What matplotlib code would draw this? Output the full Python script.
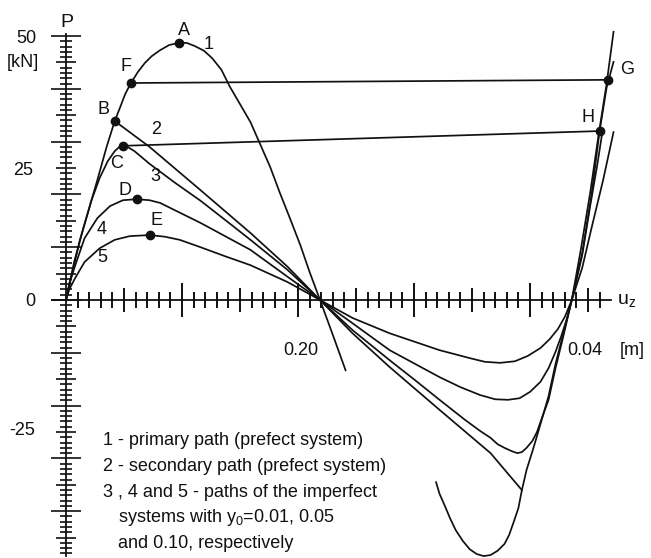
"""Load-displacement paths P(u_z) of a snap-through system (perfect and imperfect)."""

import numpy as np
import matplotlib
matplotlib.use("Agg")
import matplotlib.pyplot as plt

plt.rcParams["font.family"] = ["Liberation Sans", "DejaVu Sans"]
plt.rcParams["mathtext.fontset"] = "custom"
plt.rcParams["mathtext.rm"] = "Liberation Sans"
plt.rcParams["mathtext.it"] = "Liberation Sans"

INK = "#111111"

# 1 - primary path, left branch (u_z [m], P [kN])
u1a = [0.000, 0.012, 0.027, 0.035, 0.042, 0.047, 0.051, 0.056, 0.062, 0.068, 0.074,
       0.081, 0.089, 0.097, 0.104, 0.111, 0.119, 0.126, 0.134, 0.141, 0.150, 0.159,
       0.167, 0.176, 0.184, 0.193, 0.202, 0.210, 0.219, 0.230, 0.241]
p1a = [0.0, 11.4, 22.7, 29.0, 33.9, 36.7, 39.0, 41.1, 43.2, 44.9, 46.2,
       47.3, 48.3, 48.7, 48.7, 48.1, 47.2, 45.8, 43.6, 40.5, 37.1, 33.7,
       29.7, 25.2, 20.5, 15.5, 10.4, 5.3, 0.0, -6.6, -13.3]

# 1 - primary path, right branch
u1b = [0.319, 0.322, 0.327, 0.331, 0.336, 0.342, 0.348, 0.354, 0.360, 0.366, 0.372,
       0.378, 0.382, 0.386, 0.390, 0.393, 0.397, 0.403, 0.409, 0.416, 0.422, 0.429,
       0.436, 0.444, 0.452, 0.459, 0.466, 0.472]
p1b = [-34.5, -36.7, -39.2, -41.3, -43.6, -45.6, -47.2, -48.1, -48.5, -48.3, -47.5,
       -46.2, -44.5, -42.0, -39.4, -36.0, -32.2, -28.0, -23.5, -18.2, -12.1, -6.1,
       0.0, 9.8, 20.5, 31.1, 40.9, 50.8]

# 2 - secondary path
u2 = [0.042, 0.072, 0.116, 0.159, 0.191, 0.219, 0.247, 0.279, 0.322, 0.366, 0.393]
p2 = [33.9, 29.0, 20.8, 12.7, 6.3, 0.0, -6.3, -12.7, -20.8, -29.0, -36.0]

# 3 - imperfect, y0 = 0.01
u3 = [0.000, 0.007, 0.015, 0.022, 0.029, 0.036, 0.042, 0.046, 0.049, 0.053, 0.059,
      0.072, 0.094, 0.116, 0.137, 0.159, 0.191, 0.219, 0.247, 0.279, 0.301, 0.322,
      0.344, 0.357, 0.366, 0.372, 0.378, 0.384, 0.389, 0.393, 0.397, 0.402, 0.406,
      0.410, 0.416, 0.422, 0.429, 0.436, 0.445, 0.453, 0.460, 0.466, 0.472]
p3 = [0.0, 7.2, 13.6, 18.9, 23.1, 26.3, 28.2, 29.0, 29.2, 29.0, 28.2,
      25.8, 22.2, 18.8, 15.2, 11.4, 5.7, 0.0, -5.7, -11.4, -15.2, -18.9,
      -22.7, -24.8, -26.1, -27.3, -28.0, -28.6, -29.0, -28.8, -28.0, -26.7, -25.0,
      -22.5, -18.9, -12.9, -6.6, 0.0, 8.9, 19.9, 32.0, 40.2, 45.1]

# 4 - imperfect, y0 = 0.05
u4 = [0.000, 0.003, 0.008, 0.016, 0.027, 0.038, 0.049, 0.061, 0.072, 0.081, 0.116,
      0.159, 0.191, 0.219, 0.247, 0.279, 0.322, 0.340, 0.357, 0.370, 0.381, 0.391,
      0.400, 0.409, 0.416, 0.422, 0.427, 0.432, 0.436, 0.445, 0.452, 0.458, 0.462]
p4 = [0.0, 3.2, 6.6, 11.7, 15.5, 17.8, 18.9, 19.1, 18.9, 18.4, 14.6,
      9.5, 4.4, 0.0, -4.4, -9.5, -14.6, -16.5, -18.0, -18.8, -18.9, -18.6,
      -17.4, -15.5, -12.9, -9.8, -6.8, -3.4, 0.0, 8.5, 18.0, 25.6, 31.3]

# 5 - imperfect, y0 = 0.10
u5 = [0.000, 0.003, 0.008, 0.016, 0.029, 0.042, 0.055, 0.072, 0.085, 0.098, 0.116,
      0.137, 0.159, 0.191, 0.219, 0.247, 0.279, 0.322, 0.348, 0.361, 0.374, 0.387,
      0.398, 0.409, 0.417, 0.424, 0.430, 0.436, 0.445, 0.453, 0.463, 0.472]
p5 = [0.0, 2.1, 4.2, 7.2, 9.8, 11.4, 12.1, 12.3, 12.0, 11.4, 10.0,
      8.3, 6.6, 3.4, 0.0, -3.4, -6.3, -9.5, -11.0, -11.7, -11.9, -11.6,
      -10.6, -9.1, -7.4, -5.5, -3.2, 0.0, 6.1, 13.6, 22.7, 31.8]

# snap-through jumps F->G and C->H
u_fg = [0.056, 0.467]
p_fg = [41.1, 41.7]
u_ch = [0.049, 0.460]
p_ch = [29.2, 32.0]

# marked points
pt_names = ["A", "B", "C", "D", "E", "F", "G", "H"]
pt_u = [0.097, 0.042, 0.049, 0.061, 0.072, 0.056, 0.467, 0.460]
pt_p = [48.7, 33.9, 29.2, 19.1, 12.3, 41.1, 41.7, 32.0]

legend_lines = [
    "1 - primary path (prefect system)",
    "2 - secondary path (prefect system)",
    "3 , 4 and 5 - paths of the imperfect",
    "   systems with y$_0$=0.01, 0.05",
    "   and 0.10, respectively",
]

fig = plt.figure(figsize=(6.51, 5.58), dpi=100)
ax = fig.add_axes([0, 0, 1, 1])
ax.set_xlim(-0.0569, 0.5043)
ax.set_ylim(-48.86, 56.82)
ax.axis("off")

# hand-drawn style axes with long / medium / short ticks
ax.plot([-0.012, 0.470], [0, 0], color=INK, lw=1.3)
ax.plot([0, 0], [-48.5, 50.3], color=INK, lw=1.3)

yt = np.arange(-48, 51)
yhalf = np.where(yt % 10 == 0, 0.0129, np.where(yt % 5 == 0, 0.0086, 0.0052))
ax.hlines(yt, -yhalf, yhalf, color=INK, lw=1.2)

k = np.arange(1, 47)
xt = k * 0.01
xhalf = np.where(k % 10 == 0, 3.2, np.where(k % 5 == 0, 2.3, 1.5))
ax.vlines(xt, -xhalf, xhalf, color=INK, lw=1.4)

# paths
for u, p in [(u1a, p1a), (u1b, p1b), (u2, p2), (u3, p3), (u4, p4), (u5, p5),
             (u_fg, p_fg), (u_ch, p_ch)]:
    ax.plot(u, p, color=INK, lw=1.25, solid_joinstyle="round")

ax.plot(pt_u, pt_p, "o", color=INK, ms=6)

fs = 13
label_pos = {"A": (0.102, 51.0), "B": (0.032, 36.0), "C": (0.044, 25.9),
             "D": (0.051, 20.8), "E": (0.078, 15.0), "F": (0.052, 44.3),
             "G": (0.484, 43.6), "H": (0.450, 34.5)}
for name in pt_names:
    x, y = label_pos[name]
    ax.text(x, y, name, fontsize=fs, ha="center", va="center", color=INK)

for txt, (x, y) in zip(["1", "2", "3", "4", "5"],
                       [(0.123, 48.4), (0.078, 32.2), (0.077, 23.3),
                        (0.031, 13.3), (0.031, 8.1)]):
    ax.text(x, y, txt, fontsize=fs, ha="center", va="center", color=INK)

# axis annotations
ax.text(0.001, 52.6, "P", fontsize=fs + 1, ha="center", va="center", color=INK)
ax.text(-0.034, 49.6, "50", fontsize=fs, ha="center", va="center", color=INK)
ax.text(-0.037, 44.9, "[kN]", fontsize=fs, ha="center", va="center", color=INK)
ax.text(-0.037, 24.6, "25", fontsize=fs, ha="center", va="center", color=INK)
ax.text(-0.031, -0.3, "0", fontsize=fs, ha="center", va="center", color=INK)
ax.text(-0.038, -24.8, "-25", fontsize=fs, ha="center", va="center", color=INK)
ax.text(0.202, -9.5, "0.20", fontsize=fs, ha="center", va="center", color=INK)
ax.text(0.447, -9.5, "0.04", fontsize=fs, ha="center", va="center", color=INK)
ax.text(0.488, -9.5, "[m]", fontsize=fs, ha="center", va="center", color=INK)
ax.text(0.483, 0.0, "u$_z$", fontsize=fs + 1, ha="center", va="center", color=INK)

for i, line in enumerate(legend_lines):
    ax.text(0.032, -26.7 - 4.85 * i, line, fontsize=fs, ha="left", va="center",
            color=INK)

fig.savefig("out.png", dpi=100)
plt.close(fig)
